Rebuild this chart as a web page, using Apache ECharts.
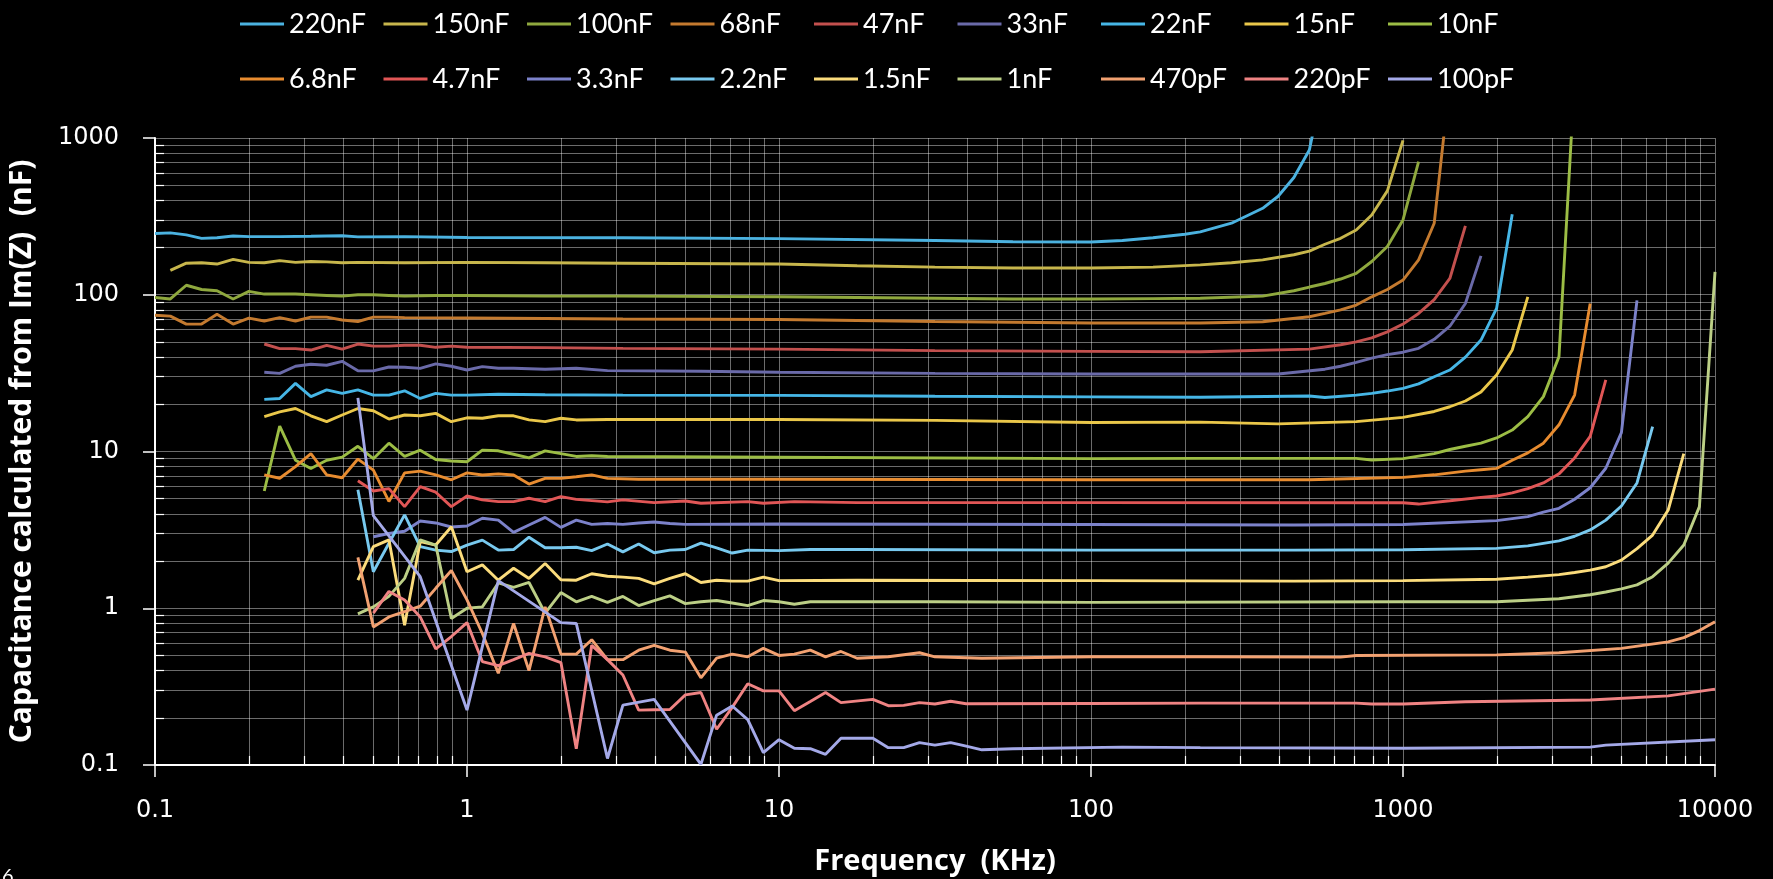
<!DOCTYPE html>
<html>
<head>
<meta charset="utf-8">
<script src="https://cdn.jsdelivr.net/npm/echarts@6/dist/echarts.min.js"></script>
<style>
  html, body { margin: 0; padding: 0; background: #000; }
  #chart { width: 1773px; height: 879px; }
</style>
</head>
<body>
<div id="chart"></div>
<script>
// measurement frequencies (kHz), 20 points per decade
const FREQ = [
  0.1, 0.112, 0.126, 0.141, 0.158, 0.178, 0.2, 0.224, 0.251, 0.282, 0.316, 0.355, 0.398, 0.447, 0.501, 0.562, 0.631, 0.708, 0.794, 0.891,
  1, 1.12, 1.26, 1.41, 1.58, 1.78, 2, 2.24, 2.51, 2.82, 3.16, 3.55, 3.98, 4.47, 5.01, 5.62, 6.31, 7.08, 7.94, 8.91,
  10, 11.2, 12.6, 14.1, 15.8, 17.8, 20, 22.4, 25.1, 28.2, 31.6, 35.5, 39.8, 44.7, 50.1, 56.2, 63.1, 70.8, 79.4, 89.1,
  100, 112, 126, 141, 158, 178, 200, 224, 251, 282, 316, 355, 398, 447, 501, 562, 631, 708, 794, 891,
  1000, 1122, 1259, 1413, 1585, 1778, 1995, 2239, 2512, 2818, 3162, 3548, 3981, 4467, 5012, 5623, 6310, 7079, 7943, 8913,
  10000
];

// [frequency index, capacitance nF]
const c220n = [[0,246],[1,248],[2,241],[3,229],[4,231],[5,237],[6,235],[8,235],[10,236],[12,238],[13,234],[16,235],[20,232],[30,231],[40,228],[50,222],[55,218],[60,217],[62,222],[64,231],[66,243],[67,252],[69,286],[71,356],[72,425],[73,560],[74,838],[75,2500]];
const c150n = [[1,143],[2,159],[3,160],[4,157],[5,168],[6,161],[7,160],[8,165],[9,161],[10,163],[11,162],[12,160],[13,161],[16,160],[20,161],[25,160],[30,159],[40,157],[45,153],[50,150],[55,148],[60,148],[64,150],[67,155],[69,160],[71,167],[73,180],[74,190],[75,210],[76,229],[77,259],[78,323],[79,460],[80,965]];
const c100n = [[0,96],[1,94],[2,115],[3,108],[4,106],[5,94],[6,105],[7,101],[9,101],[10,100],[11,99],[12,98],[13,100],[14,100],[15,99],[16,98],[18,99],[20,99],[25,98],[30,98],[40,97],[50,95],[55,94],[60,94],[64,94.5],[67,95],[71,98],[73,106],[74,112],[75,118],[76,126],[77,137],[78,163],[79,203],[80,300],[81,706]];
const c68n = [[0,74],[1,73],[2,65],[3,65],[4,75],[5,65],[6,71],[7,68],[8,71.5],[9,68],[10,72],[11,72],[12,69],[13,67.5],[14,72],[15,72],[16,71.5],[20,71],[25,70.5],[30,70],[40,69.5],[50,67.5],[60,66],[67,66],[71,67.3],[74,72.4],[75,76],[76,80],[77,86],[78,97],[79,108],[80,124],[81,167],[82,286],[83,2300]];
const c47n = [[7,48.5],[8,45.3],[9,45.3],[10,44.4],[11,47.6],[12,45],[13,48.5],[14,47],[15,47],[16,47.6],[17,47.6],[18,46.2],[19,47],[20,46.2],[25,46],[30,45.5],[40,45],[50,44],[60,43.5],[67,43.3],[74,45],[76,48],[77,50],[78,53],[79,58],[80,65],[81,76],[82,93],[83,127],[84,275]];
const c33n = [[7,32],[8,31.5],[9,35],[10,36],[11,35.5],[12,37.6],[13,32.7],[14,32.7],[15,34.6],[16,34.5],[17,33.9],[18,36.2],[19,35],[20,33.1],[21,34.8],[22,34],[23,34],[25,33.5],[27,34],[29,32.8],[35,32.5],[40,32],[50,31.5],[60,31.2],[72,31.2],[75,33.5],[76,35],[77,37],[78,39.4],[79,41.5],[80,43],[81,45.5],[82,52],[83,63],[84,88],[85,177]];
const c22n = [[7,21.5],[8,21.8],[9,27.2],[10,22.4],[11,24.7],[12,23.5],[13,24.7],[14,22.9],[15,22.9],[16,24.4],[17,21.8],[18,23.5],[19,22.9],[20,22.9],[22,23.2],[25,23],[30,22.9],[40,22.8],[50,22.5],[60,22.3],[67,22.2],[74,22.6],[75,22.1],[77,22.9],[78,23.5],[79,24.3],[80,25.3],[81,27],[82,30],[83,33.1],[84,40],[85,51.4],[86,81.8],[87,326]];
const c15n = [[7,16.7],[8,17.9],[9,18.8],[10,16.9],[11,15.5],[12,17.1],[13,18.8],[14,18.2],[15,16.1],[16,17.1],[17,16.9],[18,17.5],[19,15.5],[20,16.4],[21,16.3],[22,16.9],[23,16.9],[24,15.9],[25,15.5],[26,16.3],[27,15.9],[29,16],[40,16],[50,15.8],[60,15.3],[67,15.4],[72,15],[77,15.5],[80,16.5],[82,18],[83,19.3],[84,21],[85,24],[86,30.8],[87,44.4],[88,97]];
const c10n = [[7,5.6],[8,14.5],[9,8.8],[10,7.8],[11,8.8],[12,9.2],[13,10.8],[14,9],[15,11.3],[16,9.3],[17,10.2],[18,8.9],[19,8.7],[20,8.6],[21,10.2],[22,10.1],[23,9.6],[24,9.1],[25,10.1],[26,9.7],[27,9.3],[28,9.4],[29,9.3],[40,9.2],[60,9],[67,9.04],[77,9.04],[78,8.83],[80,9],[82,9.7],[83,10.3],[84,10.8],[85,11.3],[86,12.2],[87,13.7],[88,16.7],[89,22.4],[90,40.3],[91,2400]];
const c6n8 = [[7,7.1],[8,6.75],[9,8],[10,9.7],[11,7.1],[12,6.8],[13,8.95],[14,7.6],[15,4.8],[16,7.3],[17,7.5],[18,7.1],[19,6.6],[20,7.3],[21,7.08],[22,7.2],[23,7.08],[24,6.2],[25,6.74],[26,6.74],[27,6.9],[28,7.1],[29,6.74],[31,6.65],[40,6.65],[60,6.6],[74,6.6],[80,6.84],[82,7.1],[84,7.5],[85,7.65],[86,7.8],[87,8.8],[88,9.8],[89,11.3],[90,14.8],[91,22.9],[92,88]];
const c4n7 = [[13,6.5],[14,5.6],[15,5.8],[16,4.45],[17,5.97],[18,5.5],[19,4.45],[20,5.2],[21,4.91],[22,4.79],[23,4.79],[24,5.03],[25,4.79],[26,5.15],[27,4.95],[29,4.77],[30,4.91],[32,4.72],[34,4.83],[35,4.68],[38,4.79],[39,4.68],[41,4.79],[45,4.72],[60,4.72],[80,4.71],[81,4.62],[83,4.85],[85,5.1],[86,5.2],[87,5.45],[88,5.8],[89,6.3],[90,7.2],[91,9.1],[92,12.5],[93,28.6]];
const c3n3 = [[14,2.86],[15,3],[16,3.1],[17,3.6],[18,3.5],[19,3.3],[20,3.35],[21,3.75],[22,3.65],[23,3.05],[24,3.4],[25,3.8],[26,3.28],[27,3.65],[28,3.43],[29,3.47],[30,3.43],[31,3.5],[32,3.55],[33,3.47],[34,3.43],[40,3.45],[60,3.42],[73,3.4],[80,3.42],[86,3.62],[88,3.84],[89,4.1],[90,4.34],[91,4.96],[92,5.87],[93,7.82],[94,13.2],[95,92]];
const c2n2 = [[13,5.7],[14,1.71],[15,2.6],[16,3.94],[17,2.47],[18,2.35],[19,2.3],[20,2.53],[21,2.72],[22,2.35],[23,2.37],[24,2.84],[25,2.43],[26,2.43],[27,2.45],[28,2.33],[29,2.57],[30,2.29],[31,2.57],[32,2.26],[33,2.35],[34,2.37],[35,2.6],[36,2.43],[37,2.25],[38,2.35],[40,2.33],[42,2.37],[45,2.37],[60,2.35],[73,2.35],[80,2.36],[86,2.41],[88,2.5],[90,2.69],[91,2.88],[92,3.16],[93,3.65],[94,4.49],[95,6.3],[96,14.4]];
const c1n5 = [[13,1.51],[14,2.47],[15,2.73],[16,0.78],[17,2.66],[18,2.53],[19,3.31],[20,1.71],[21,1.89],[22,1.51],[23,1.8],[24,1.55],[25,1.93],[26,1.52],[27,1.51],[28,1.66],[29,1.6],[30,1.58],[31,1.55],[32,1.43],[33,1.55],[34,1.66],[35,1.46],[36,1.51],[37,1.49],[38,1.49],[39,1.58],[40,1.5],[45,1.51],[60,1.5],[73,1.49],[80,1.5],[86,1.53],[88,1.58],[90,1.64],[91,1.69],[92,1.75],[93,1.84],[94,2.03],[95,2.4],[96,2.93],[97,4.23],[98,9.7]];
const c1n = [[13,0.92],[14,1.02],[15,1.19],[16,1.55],[17,2.73],[18,2.53],[19,0.86],[20,1],[21,1.02],[22,1.45],[23,1.36],[24,1.46],[25,0.93],[26,1.26],[27,1.1],[28,1.19],[29,1.09],[30,1.19],[31,1.04],[32,1.12],[33,1.2],[34,1.07],[35,1.1],[36,1.12],[37,1.08],[38,1.04],[39,1.12],[40,1.1],[41,1.06],[42,1.1],[50,1.1],[60,1.09],[80,1.1],[86,1.1],[90,1.15],[92,1.22],[93,1.27],[94,1.33],[95,1.41],[96,1.59],[97,1.94],[98,2.53],[99,4.45],[100,140]];
const c470p = [[13,2.11],[14,0.76],[15,0.88],[16,0.95],[17,1.03],[18,1.34],[19,1.74],[20,1.13],[21,0.69],[22,0.385],[23,0.8],[24,0.4],[25,1.02],[26,0.51],[27,0.51],[28,0.63],[29,0.47],[30,0.47],[31,0.54],[32,0.58],[33,0.54],[34,0.525],[35,0.36],[36,0.48],[37,0.51],[38,0.49],[39,0.555],[40,0.5],[41,0.51],[42,0.54],[43,0.49],[44,0.53],[45,0.48],[47,0.49],[49,0.52],[50,0.49],[53,0.48],[60,0.49],[67,0.49],[76,0.488],[77,0.5],[86,0.504],[90,0.52],[94,0.555],[97,0.61],[98,0.65],[99,0.72],[100,0.82]];
const c220p = [[14,0.93],[15,1.28],[16,1.13],[17,0.88],[18,0.55],[19,0.66],[20,0.81],[21,0.457],[22,0.43],[23,0.47],[24,0.515],[25,0.49],[26,0.45],[27,0.127],[28,0.58],[29,0.47],[30,0.375],[31,0.224],[32,0.225],[33,0.226],[34,0.28],[35,0.29],[36,0.169],[37,0.233],[38,0.33],[39,0.297],[40,0.297],[41,0.222],[42,0.254],[43,0.29],[44,0.25],[46,0.262],[47,0.239],[48,0.24],[49,0.25],[50,0.245],[51,0.255],[52,0.246],[60,0.247],[67,0.248],[77,0.248],[78,0.245],[80,0.245],[84,0.253],[92,0.26],[97,0.276],[100,0.305]];
const c100p = [[13,22],[14,3.9],[17,1.59],[20,0.224],[22,1.5],[26,0.81],[27,0.8],[29,0.11],[30,0.241],[32,0.262],[35,0.101],[36,0.208],[37,0.238],[38,0.195],[39,0.12],[40,0.145],[41,0.128],[42,0.127],[43,0.117],[44,0.148],[46,0.148],[47,0.129],[48,0.129],[49,0.139],[50,0.134],[51,0.139],[52,0.132],[53,0.125],[55,0.127],[62,0.13],[67,0.129],[80,0.128],[92,0.13],[93,0.134],[100,0.145]];

const NAMES = ['220nF','150nF','100nF','68nF','47nF','33nF','22nF','15nF','10nF',
               '6.8nF','4.7nF','3.3nF','2.2nF','1.5nF','1nF','470pF','220pF','100pF'];
const SERIES_DATA = [c220n, c150n, c100n, c68n, c47n, c33n, c22n, c15n, c10n,
                     c6n8, c4n7, c3n3, c2n2, c1n5, c1n, c470p, c220p, c100p];
const COLORS = ['#4bb2e0','#c7b64c','#8fa83e','#c47a2f','#c3504e','#6a6aa9','#46b6e6','#eac74a','#9cbd45',
                '#e88c30','#e15656','#7c82ca','#78c9ef','#fbdc7c','#bccf86','#f2a171','#ef8383','#a4a9e8'];

// tick labels
const X_TICKS = [0.1, 1, 10, 100, 1000, 10000];
const Y_TICKS = [0.1, 1, 10, 100, 1000];
const MINOR_MULT = [2, 3, 4, 5, 6, 7, 8, 9];

const toPairs = (arr) => arr.map(([k, v]) => [FREQ[k], v]);
const minorLog = (ticks) => {
  const out = [];
  ticks.slice(0, -1).forEach(t => MINOR_MULT.forEach(m => out.push(Math.log10(t * m))));
  return out;
};
const plainNum = (v) => String(+v.toPrecision(6));

const FONT = 'Lato, "Open Sans", sans-serif';
const LABEL_FONT = '"DejaVu Sans", sans-serif';
const TITLE_FONT = '"Open Sans", Lato, sans-serif';
const gridLine = { color: 'rgba(255,255,255,0.42)', width: 1 };

const chart = echarts.init(document.getElementById('chart'), null, { renderer: 'canvas' });

const legendCommon = {
  left: 240,
  padding: 0,
  icon: 'rect',
  itemWidth: 44,
  itemHeight: 3,
  itemGap: 8.5,
  textStyle: { color: '#fff', fontSize: 27, fontFamily: FONT, width: 86, lineHeight: 30 }
};

chart.setOption({
  backgroundColor: '#000',
  animation: false,
  color: COLORS,
  legend: [
    Object.assign({}, legendCommon, { top: 9, data: NAMES.slice(0, 9) }),
    Object.assign({}, legendCommon, { top: 64, data: NAMES.slice(9) })
  ],
  grid: { left: 155, right: 58, top: 138, bottom: 114, containLabel: false, outerBoundsMode: 'none' },
  xAxis: [
    {
      type: 'log', logBase: 10, min: X_TICKS[0], max: X_TICKS[X_TICKS.length - 1],
      name: 'Frequency  (KHz)', nameLocation: 'middle', nameGap: 82,
      nameTextStyle: { color: '#fff', fontSize: 29, fontWeight: 'bold', fontFamily: TITLE_FONT },
      axisLine: { onZero: false, lineStyle: { color: '#fff', width: 2 } },
      axisTick: { inside: false, length: 12, lineStyle: { color: '#fff', width: 1.5 } },
      axisLabel: { color: '#fff', fontSize: 24, fontFamily: LABEL_FONT, margin: 34, formatter: plainNum },
      splitLine: { show: true, lineStyle: gridLine }
    },
    {
      type: 'value', min: -1, max: 4, position: 'bottom',
      axisLine: { show: false, onZero: false },
      axisLabel: { show: false },
      axisTick: { show: true, inside: true, length: 9, customValues: minorLog(X_TICKS), lineStyle: { color: '#fff', width: 1.2 } },
      splitLine: { show: true, lineStyle: gridLine }
    }
  ],
  yAxis: [
    {
      type: 'log', logBase: 10, min: Y_TICKS[0], max: Y_TICKS[Y_TICKS.length - 1],
      name: 'Capacitance calculated from Im(Z)  (nF)', nameLocation: 'middle', nameGap: 118, nameRotate: 90,
      nameTextStyle: { color: '#fff', fontSize: 30, fontWeight: 'bold', fontFamily: TITLE_FONT },
      axisLine: { onZero: false, lineStyle: { color: '#fff', width: 2 } },
      axisTick: { inside: false, length: 12, lineStyle: { color: '#fff', width: 1.5 } },
      axisLabel: { color: '#fff', fontSize: 24, fontFamily: LABEL_FONT, margin: 36, formatter: plainNum },
      splitLine: { show: true, lineStyle: gridLine }
    },
    {
      type: 'value', min: -1, max: 3, position: 'left',
      axisLine: { show: false, onZero: false },
      axisLabel: { show: false },
      axisTick: { show: true, inside: true, length: 9, customValues: minorLog(Y_TICKS), lineStyle: { color: '#fff', width: 1.2 } },
      splitLine: { show: true, lineStyle: gridLine }
    }
  ],
  graphic: [
    { type: 'text', left: 2, top: 867, style: { text: '6', fill: '#fff', fontSize: 20, fontFamily: FONT } }
  ],
  series: SERIES_DATA.map((d, i) => ({
    name: NAMES[i],
    type: 'line',
    xAxisIndex: 0,
    yAxisIndex: 0,
    data: toPairs(d),
    showSymbol: false,
    symbol: 'none',
    clip: true,
    lineStyle: { width: 2.9, color: COLORS[i] },
    itemStyle: { color: COLORS[i] }
  }))
});
</script>
</body>
</html>
